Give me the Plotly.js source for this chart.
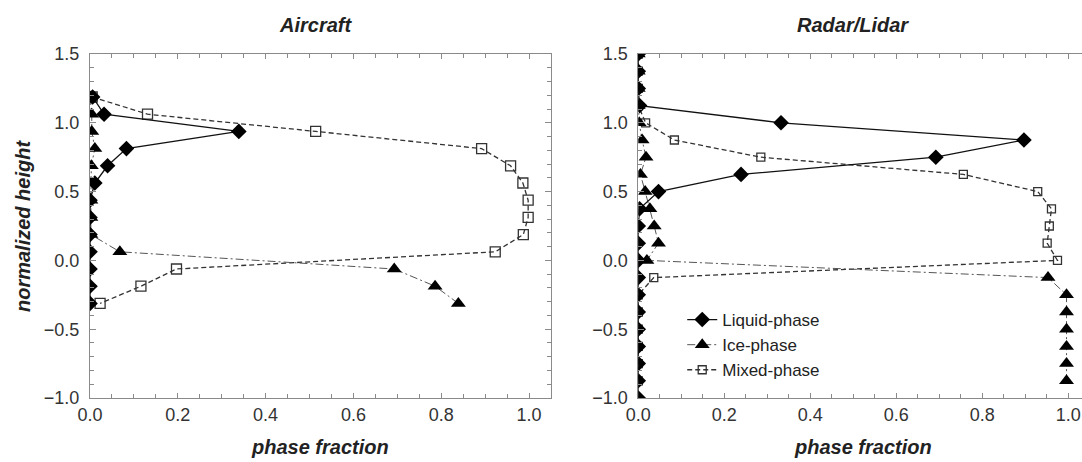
<!DOCTYPE html>
<html>
<head>
<meta charset="utf-8">
<script src="https://cdn.plot.ly/plotly-3.0.1.min.js"></script>
<style>html,body{margin:0;padding:0;background:#fff;}#chart{width:1082px;height:462px;}</style>
</head>
<body>
<div id="chart"></div>
<script>
// ---- Data ----
const aircraftHeight = [1.1875, 1.0625, 0.9375, 0.8125, 0.6875, 0.5625, 0.4375, 0.3125, 0.1875, 0.0625, -0.0625, -0.1875, -0.3125];
const aircraftLiquid = [0.006, 0.032, 0.339, 0.083, 0.040, 0.011, 0, 0, 0, 0, 0, 0, 0];
const aircraftIce    = [0, 0.004, 0.004, 0.011, 0.003, 0.002, 0.002, 0.002, 0.002, 0.068, 0.693, 0.786, 0.839];
const aircraftMixed  = [0.005, 0.131, 0.514, 0.892, 0.958, 0.986, 0.998, 0.998, 0.987, 0.923, 0.197, 0.116, 0.023];

const radarHeight = [1.5, 1.375, 1.25, 1.125, 1.0, 0.875, 0.75, 0.625, 0.5, 0.375, 0.25, 0.125, 0.0, -0.125, -0.25, -0.375, -0.5, -0.625, -0.75, -0.875, -1.0];
const radarLiquid = [0, 0, 0, 0.003, 0.332, 0.897, 0.692, 0.239, 0.047, 0.003, 0, 0, 0, 0, 0, 0, 0, 0, 0, 0, 0];
const radarIce    = [0, 0, 0, 0, 0.002, 0.009, 0.018, 0.005, 0.016, 0.027, 0.037, 0.047, 0.020, 0.953, 0.996, 0.996, 0.996, 0.996, 0.996, 0.996, null];
const radarMixed  = [0, 0, 0, 0, 0.017, 0.084, 0.285, 0.756, 0.929, 0.961, 0.956, 0.951, 0.975, 0.036, 0, 0, 0, 0, 0, 0, null];

const seriesNames = ['Liquid-phase', 'Ice-phase', 'Mixed-phase'];
const panelTitles = ['Aircraft', 'Radar/Lidar'];
const xTitle = 'phase fraction';
const yTitle = 'normalized height';

// ---- Styles ----
const FONT = 'Liberation Sans, Arial, Helvetica, sans-serif';
const TXT = '#222';
const AX = '#8a8a8a';

function liquidTrace(x, y, xa, ya, show) {
  return {x: x, y: y, xaxis: xa, yaxis: ya, type: 'scatter', mode: 'lines+markers',
    name: seriesNames[0], showlegend: show, legendrank: 1,
    line: {color: '#111', width: 1.3},
    marker: {symbol: 'diamond', size: 12, color: '#000'}};
}
function iceTrace(x, y, xa, ya, show) {
  return {x: x, y: y, xaxis: xa, yaxis: ya, type: 'scatter', mode: 'lines+markers',
    name: seriesNames[1], showlegend: show, legendrank: 2, connectgaps: false,
    line: {color: '#555', width: 1, dash: '8px,3px,2px,3px'},
    marker: {symbol: 'triangle-up', size: 13, color: '#000'}};
}
function mixedTrace(x, y, xa, ya, show, sz) {
  return {x: x, y: y, xaxis: xa, yaxis: ya, type: 'scatter', mode: 'lines+markers',
    name: seriesNames[2], showlegend: show, legendrank: 3,
    line: {color: '#333', width: 1.3, dash: '5px,3px'},
    marker: {symbol: 'square-open', size: sz, color: '#333', line: {width: 1.3}}};
}

const data = [
  mixedTrace(aircraftMixed, aircraftHeight, 'x', 'y', false, 10),
  iceTrace(aircraftIce, aircraftHeight, 'x', 'y', false),
  liquidTrace(aircraftLiquid, aircraftHeight, 'x', 'y', false),
  mixedTrace(radarMixed, radarHeight, 'x2', 'y2', true, 8),
  iceTrace(radarIce, radarHeight, 'x2', 'y2', true),
  liquidTrace(radarLiquid, radarHeight, 'x2', 'y2', true)
];

const tickFont = {family: FONT, size: 18, color: '#333'};
function xAxis(domain, range) {
  return {domain: domain, range: range, anchor: domain[0] === 0 ? 'y' : 'y2',
    showgrid: false, zeroline: false, showline: true, linecolor: AX, linewidth: 1, mirror: 'ticks',
    ticks: 'inside', ticklen: 5, tickcolor: AX, tickwidth: 1, dtick: 0.2, tick0: 0, tickformat: '.1f',
    minor: {ticks: 'inside', ticklen: 4, dtick: 0.05, tickcolor: AX, showgrid: false},
    tickfont: tickFont, ticklabelstandoff: 0, fixedrange: true};
}
function yAxis(anchor, mirror) {
  return {domain: [0, 1], range: [-1, 1.5], anchor: anchor,
    showgrid: false, zeroline: false, showline: true, linecolor: AX, linewidth: 1, mirror: mirror,
    ticks: 'inside', ticklen: 6, tickcolor: AX, tickwidth: 1, dtick: 0.5, tick0: 0, tickformat: '.1f',
    minor: {ticks: 'inside', ticklen: 4, dtick: 0.1, tickcolor: AX, showgrid: false},
    tickfont: tickFont, ticklabelstandoff: 6, fixedrange: true};
}

const titleFont = {family: FONT, size: 20, color: TXT, weight: 'bold', style: 'italic'};
function ann(text, x, y, angle) {
  return {text: text, xref: 'paper', yref: 'paper', x: x, y: y, xanchor: 'center', yanchor: 'middle',
    showarrow: false, textangle: angle || 0, font: titleFont};
}

const layout = {
  width: 1082, height: 462,
  margin: {l: 90, r: 0, t: 54, b: 64, pad: 0},
  paper_bgcolor: '#fff', plot_bgcolor: '#fff',
  font: {family: FONT, color: TXT},
  xaxis: xAxis([0, 0.4647], [0, 1.05]),
  yaxis: yAxis('x', 'ticks'),
  xaxis2: xAxis([0.5527, 1], [0, 1.032]),
  yaxis2: yAxis('x2', false),
  showlegend: true,
  legend: {x: 0.597, y: 0.279, xanchor: 'left', yanchor: 'top', bgcolor: 'rgba(0,0,0,0)',
    borderwidth: 0, font: {family: FONT, size: 17, color: TXT}, itemwidth: 30,
    tracegroupgap: 0, traceorder: 'normal'},
  annotations: [
    ann(panelTitles[0], 0.2278, 1.084),
    ann(panelTitles[1], 0.7692, 1.084),
    ann(xTitle, 0.2319, -0.142),
    ann(xTitle, 0.7792, -0.142),
    ann(yTitle, -0.0675, 0.5, -90)
  ]
};

Plotly.newPlot('chart', data, layout, {displayModeBar: false, staticPlot: true});
</script>
</body>
</html>
